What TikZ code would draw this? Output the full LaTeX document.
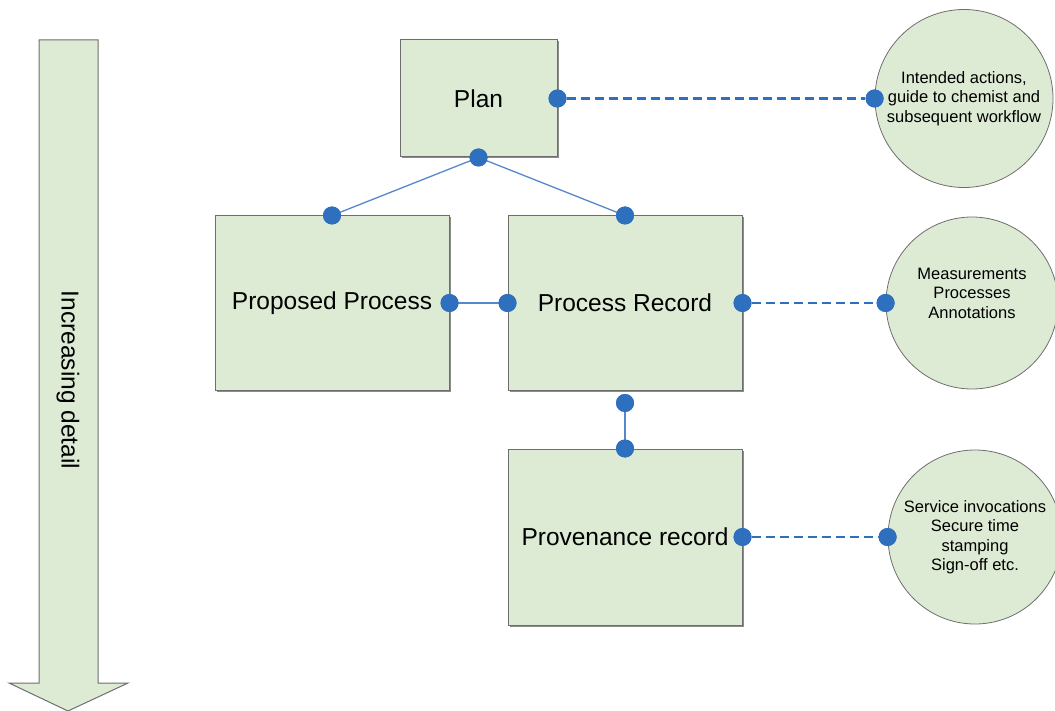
\documentclass[tikz,border=0pt]{standalone}
\usepackage{fontspec}
\setmainfont{Liberation Sans}
\usetikzlibrary{shadows}
\definecolor{boxfill}{RGB}{221,235,212}
\definecolor{boxline}{RGB}{110,110,110}
\definecolor{dotblue}{RGB}{46,112,190}
\definecolor{linkblue}{RGB}{85,135,205}
\tikzset{
  stage/.style={draw=boxline, fill=boxfill, line width=1pt, inner sep=0pt,
    font=\fontsize{24.5}{28}\selectfont,
    general shadow={fill=boxline!80, shadow xshift=1.5pt, shadow yshift=-1.5pt}},
  note/.style={circle, draw=boxline, fill=boxfill, line width=0.8pt, inner sep=0pt,
    align=center, font=\fontsize{16.5}{19.5}\selectfont},
  pin/.style={circle, fill=dotblue, inner sep=0pt, minimum size=18pt},
  link/.style={draw=linkblue, line width=1.3pt},
  dlink/.style={draw=dotblue, line width=2.2pt, dash pattern=on 9pt off 5pt}
}
\begin{document}
\begin{tikzpicture}[x=1pt,y=-1pt]
\useasboundingbox (0,0) rectangle (1055,711);
% direction arrow
\draw[boxline, fill=boxfill, line width=1pt]
  (39,40) -- (98,40) -- (98,683) -- (128,683) -- (68,711) -- (9,683) -- (39,683) -- cycle;
\node[rotate=-90, font=\fontsize{24.5}{28}\selectfont] (detail) at (68,380) {Increasing detail};
% stages
\node[stage, minimum width=157pt, minimum height=117pt] (plan) at (478.5,98.5) {Plan};
\node[stage, minimum width=234pt, minimum height=174pt] (prop) at (332,303) {Proposed Process};
\node[stage, minimum width=234pt, minimum height=174pt] (rec) at (625,303) {Process Record};
\node[stage, minimum width=234pt, minimum height=176pt] (prov) at (625,537) {Provenance record};
% notes
\node[note, minimum size=178pt] (n1) at (964,98.5) {Intended actions,\\guide to chemist and\\subsequent workflow};
\node[note, minimum size=172pt] (n2) at (972,303) {};
\node[font=\fontsize{16.5}{19.5}\selectfont, align=center] (t2) at (972,293) {Measurements\\Processes\\Annotations};
\node[note, minimum size=174pt] (n3) at (975,537) {Service invocations\\Secure time\\stamping\\Sign-off etc.};
% connection points
\node[pin] (pb) at (plan.south) {};
\node[pin] (pt) at (prop.north) {};
\node[pin] (rt) at (rec.north) {};
\node[pin] (pr) at (prop.east) {};
\node[pin] (rl) at (rec.west) {};
\node[pin] (rb) at (625,403) {};
\node[pin] (vt) at (prov.north) {};
\node[pin] (pe) at (plan.east) {};
\node[pin] (re) at (rec.east) {};
\node[pin] (ve) at (prov.east) {};
\node[pin] (c1) at (n1.west) {};
\node[pin] (c2) at (n2.west) {};
\node[pin] (c3) at (n3.west) {};
% solid links
\draw[link] (pb.center) -- (pt.center);
\draw[link] (pb.center) -- (rt.center);
\draw[link] (pr.center) -- (rl.center);
\draw[link] (rb.center) -- (vt.center);
% dashed links
\draw[dlink] (pe) -- (c1);
\draw[dlink] (re) -- (c2);
\draw[dlink] (ve) -- (c3);
% redraw pins above the links
\foreach \p in {pb,pt,rt,pr,rl,rb,vt,pe,re,ve,c1,c2,c3}
  \fill[dotblue] (\p.center) circle (9pt);
\end{tikzpicture}
\end{document}
